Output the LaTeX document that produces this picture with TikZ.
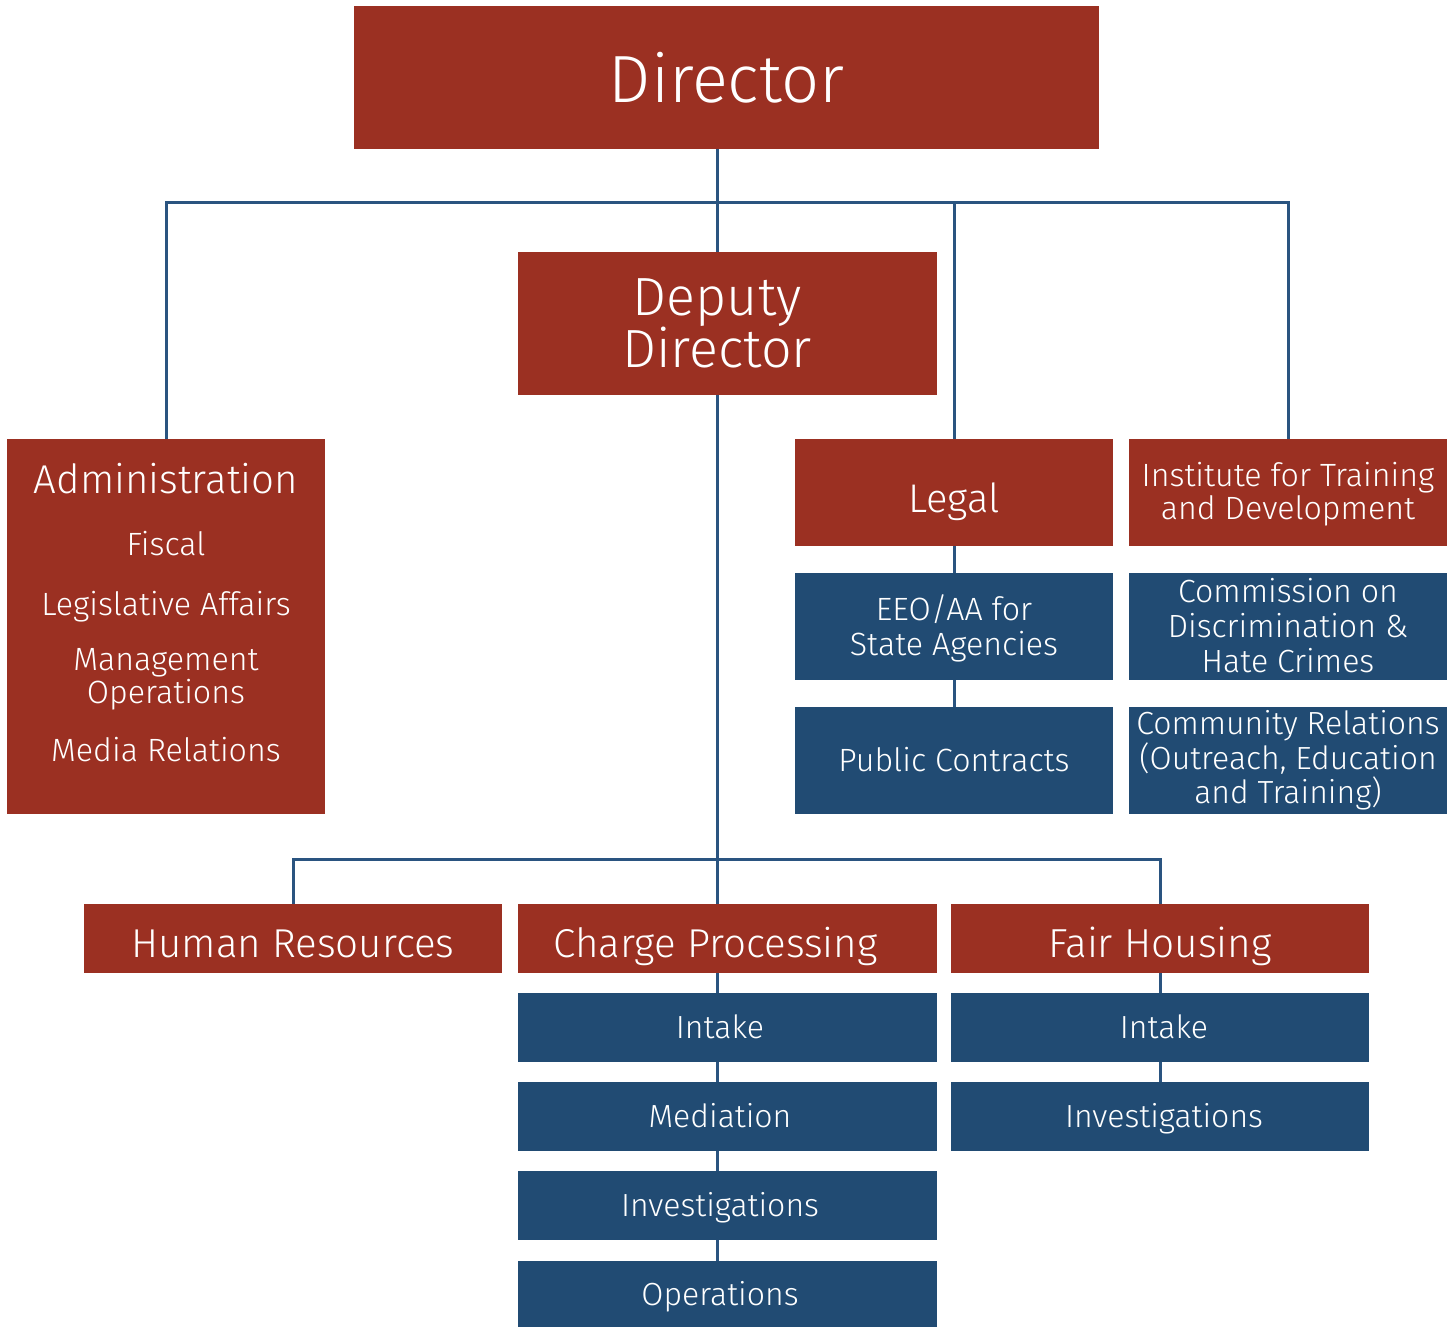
\documentclass[tikz,border=0pt]{standalone}
\usepackage{fontspec}
\IfFontExistsTF{Fira Sans Book}{\setmainfont{Fira Sans Book}}{%
    \IfFontExistsTF{Fira Sans Light}{\setmainfont{Fira Sans Light}}{\setmainfont{Fira Sans}}}
\usetikzlibrary{positioning}

\definecolor{brick}{HTML}{9B3022}
\definecolor{navy}{HTML}{214B73}
\definecolor{wire}{HTML}{2A5480}

\tikzset{
    redbox/.style={fill=brick, text=white, inner sep=0pt, align=center},
    bluebox/.style={fill=navy, text=white, inner sep=0pt, align=center},
    tag/.style={text=white, inner sep=0pt, align=center},
    headfont/.style={font=\fontsize{20.15}{20}\selectfont, text height=19.3pt, text depth=0pt},
    unitfont/.style={font=\fontsize{16}{16}\selectfont, text height=11pt, text depth=0pt},
    link/.style={draw=wire, line width=1.5pt},
}

\begin{document}
\begin{tikzpicture}[x=0.5pt, y=-0.5pt]
        \useasboundingbox (0,0) rectangle (1456,1327);
        % Top boxes
        \node[redbox, minimum width=372.5pt, minimum height=71.5pt,
              font=\fontsize{33.4}{33}\selectfont] (dir) at (726.5,77.5) {Director};
        \node[redbox, minimum width=209.5pt, minimum height=71.5pt,
              label={[tag, xshift=-5.25pt, font=\fontsize{26.9}{26}\selectfont]center:Deputy\\Director}] (dep) at (727.5,323.5) {};
        % Administration
        \node[redbox, minimum width=159pt, minimum height=187.5pt] (adm) at (166,626.5) {};
        \node[tag, font=\fontsize{20.1}{20}\selectfont, anchor=base] (admtitle) at (166,493) {Administration};
        \node[tag, font=\fontsize{16.1}{16}\selectfont, anchor=base] (fiscal) at (166,555) {Fiscal};
        \node[tag, font=\fontsize{16.1}{16}\selectfont, anchor=base] (legis) at (166,615) {Legislative Affairs};
        \node[tag, font=\fontsize{16.1}{15}\selectfont] (mgmt) at (166,679) {Management\\Operations};
        \node[tag, font=\fontsize{16.1}{16}\selectfont, anchor=base] (media) at (166,761) {Media Relations};
        % Legal column
        \node[redbox, minimum width=159pt, minimum height=53.5pt, text height=19.7pt, text depth=0pt,
              font=\fontsize{20}{20}\selectfont] (legal) at (954,492.5) {Legal};
        \node[bluebox, minimum width=159pt, minimum height=53.5pt,
              label={[tag, yshift=-0.75pt, font=\fontsize{16.1}{17.5}\selectfont]center:EEO/AA for\\State Agencies}] (eeo) at (954,626.5) {};
        \node[bluebox, minimum width=159pt, minimum height=53.5pt, unitfont,
              font=\fontsize{16.1}{17}\selectfont] (pub) at (954,760.5) {Public Contracts};
        % Institute column
        \node[redbox, minimum width=159pt, minimum height=53.5pt,
              label={[tag, yshift=-1pt, font=\fontsize{16.1}{16.5}\selectfont]center:Institute for Training\\and Development}] (inst) at (1288,492.5) {};
        \node[bluebox, minimum width=159pt, minimum height=53.5pt,
              label={[tag, yshift=0.5pt, font=\fontsize{16.05}{17.5}\selectfont]center:Commission on\\Discrimination \&\\Hate Crimes}] (comm) at (1288,626.5) {};
        \node[bluebox, minimum width=159pt, minimum height=53.5pt,
              font=\fontsize{16}{17.3}\selectfont] (crel) at (1288,760.5) {Community Relations\\(Outreach, Education\\and Training)};
        % Lower row
        \node[redbox, minimum width=209pt, minimum height=34.5pt, headfont] (hr) at (293,938.5) {Human Resources};
        \node[redbox, minimum width=209.5pt, minimum height=34.5pt,
              label={[tag, headfont, xshift=-6pt]center:Charge Processing}] (cp) at (727.5,938.5) {};
        \node[redbox, minimum width=209pt, minimum height=34.5pt, headfont,
              font=\fontsize{20.25}{20}\selectfont] (fh) at (1160,938.5) {Fair Housing};
        % Charge processing units
        \foreach \n/\y/\t in {cpint/1027.5/Intake, cpmed/1116.5/Mediation, cpinv/1205.5/Investigations}
            \node[bluebox, minimum width=209.5pt, minimum height=34.5pt,
                  label={[tag, unitfont, xshift=-3.75pt]center:\t}] (\n) at (727.5,\y) {};
        \node[bluebox, minimum width=209.5pt, minimum height=33pt,
              label={[tag, unitfont, xshift=-3.75pt]center:Operations}] (cpops) at (727.5,1294) {};
        % Fair housing units
        \foreach \n/\y/\t in {fhint/1027.5/Intake, fhinv/1116.5/Investigations}
            \node[bluebox, minimum width=209pt, minimum height=34.5pt,
                  label={[tag, unitfont, xshift=2pt]center:\t}] (\n) at (1160,\y) {};
        % Connectors
        \coordinate (bus1) at (717,202);
        \coordinate (bus2) at (717,859);
        \draw[link] (dir.south -| bus1) -- (dep.north -| bus1);
        \draw[link] (adm.north) |- (bus1) -| (inst.north);
        \draw[link] (legal.north) -- (legal.north |- bus1);
        \draw[link] (dep.south -| bus1) -- (cp.north -| bus1);
        \draw[link] (hr.north) |- (bus2) -| (fh.north);
        \foreach \a/\b in {legal/eeo, eeo/pub}
            \draw[link] (\a.south) -- (\b.north);
        \foreach \a/\b in {cp/cpint, cpint/cpmed, cpmed/cpinv, cpinv/cpops}
            \draw[link] (\a.south -| bus1) -- (\b.north -| bus1);
        \foreach \a/\b in {fh/fhint, fhint/fhinv}
            \draw[link] (\a.south) -- (\b.north);
    \end{tikzpicture}
\end{document}
